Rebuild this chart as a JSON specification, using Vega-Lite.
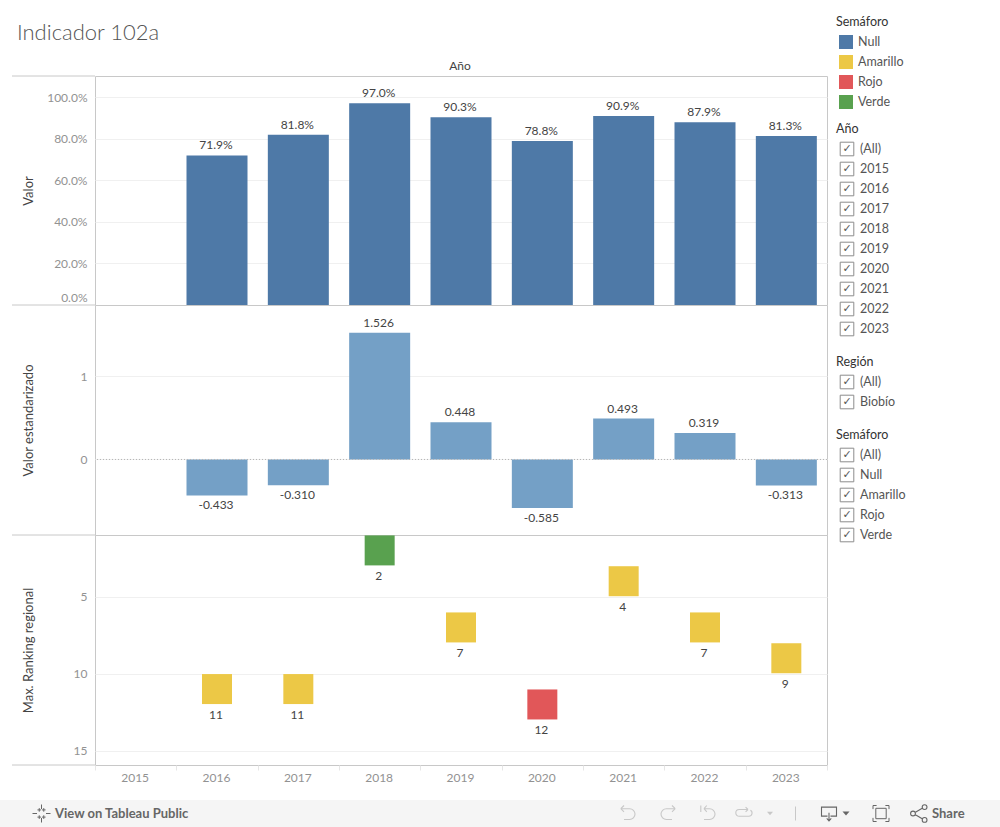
{
"$schema":"https://vega.github.io/schema/vega-lite/v6.json",
"padding":0,"background":"white","spacing":16,
"datasets":{
"indicador":[
{"anio":"2016","valor":0.719,"estandar":-0.433,"ranking":11,"semaforo":"Amarillo"},
{"anio":"2017","valor":0.818,"estandar":-0.310,"ranking":11,"semaforo":"Amarillo"},
{"anio":"2018","valor":0.970,"estandar":1.526,"ranking":2,"semaforo":"Verde"},
{"anio":"2019","valor":0.903,"estandar":0.448,"ranking":7,"semaforo":"Amarillo"},
{"anio":"2020","valor":0.788,"estandar":-0.585,"ranking":12,"semaforo":"Rojo"},
{"anio":"2021","valor":0.909,"estandar":0.493,"ranking":4,"semaforo":"Amarillo"},
{"anio":"2022","valor":0.879,"estandar":0.319,"ranking":7,"semaforo":"Amarillo"},
{"anio":"2023","valor":0.813,"estandar":-0.313,"ranking":9,"semaforo":"Amarillo"}],
"leyenda":[{"tipo":"titulo","etiqueta":"Semáforo"},{"tipo":"opcion","etiqueta":"Null"},{"tipo":"opcion","etiqueta":"Amarillo"},{"tipo":"opcion","etiqueta":"Rojo"},{"tipo":"opcion","etiqueta":"Verde"}],
"filtroAnio":[{"tipo":"titulo","etiqueta":"Año"},{"tipo":"opcion","etiqueta":"(All)"},{"tipo":"opcion","etiqueta":"2015"},{"tipo":"opcion","etiqueta":"2016"},{"tipo":"opcion","etiqueta":"2017"},{"tipo":"opcion","etiqueta":"2018"},{"tipo":"opcion","etiqueta":"2019"},{"tipo":"opcion","etiqueta":"2020"},{"tipo":"opcion","etiqueta":"2021"},{"tipo":"opcion","etiqueta":"2022"},{"tipo":"opcion","etiqueta":"2023"}],
"filtroRegion":[{"tipo":"titulo","etiqueta":"Región"},{"tipo":"opcion","etiqueta":"(All)"},{"tipo":"opcion","etiqueta":"Biobío"}],
"filtroSemaforo":[{"tipo":"titulo","etiqueta":"Semáforo"},{"tipo":"opcion","etiqueta":"(All)"},{"tipo":"opcion","etiqueta":"Null"},{"tipo":"opcion","etiqueta":"Amarillo"},{"tipo":"opcion","etiqueta":"Rojo"},{"tipo":"opcion","etiqueta":"Verde"}],
"uno":[{"fila":1}]
},
"vconcat":[
{"spacing":8,"hconcat":[
 {"spacing":0,"bounds":"flush","vconcat":[
  {"width":732,"height":76,"view":{"stroke":null},"data":{"name":"uno"},"layer":[
    {"mark":{"type":"text","text":"Indicador 102a","align":"left","baseline":"middle","fontSize":22,"fontWeight":300,"color":"#555555"},"encoding":{"x":{"datum":-0.1066,"type":"quantitative","scale":{"domain":[0,1],"nice":false},"axis":null},"y":{"datum":33,"type":"quantitative","scale":{"domain":[0,76],"reverse":true,"nice":false},"axis":null}}},
    {"mark":{"type":"text","text":"Año","align":"center","baseline":"middle","fontSize":12,"color":"#444444"},"encoding":{"x":{"datum":0.4986,"type":"quantitative"},"y":{"datum":65.5,"type":"quantitative"}}}
  ]},
  {"width":732,"height":229,"view":{"stroke":"#c8c8c8"},"resolve":{"scale":{"x":"independent"}},"layer":[
    {"data":{"name":"indicador"},"mark":{"type":"bar","width":{"band":0.75},"color":"#4e79a7"},"encoding":{
      "x":{"field":"anio","type":"nominal","scale":{"domain":["2015","2016","2017","2018","2019","2020","2021","2022","2023"],"paddingInner":0,"paddingOuter":0},"axis":null},
      "y":{"field":"valor","type":"quantitative","title":"Valor","scale":{"domain":[0,1.101],"nice":false},"axis":{"values":[0,0.2,0.4,0.6,0.8,1],"format":".1%","labelFlush":1,"labelFlushOffset":-1,"titleX":-60}}}},
    {"data":{"name":"indicador"},"mark":{"type":"text","baseline":"bottom","dy":-3,"dx":-1},"encoding":{
      "x":{"field":"anio","type":"nominal","scale":{"domain":["2015","2016","2017","2018","2019","2020","2021","2022","2023"],"paddingInner":0,"paddingOuter":0},"axis":null},
      "y":{"field":"valor","type":"quantitative","title":"Valor"},
      "text":{"field":"valor","type":"quantitative","format":".1%"}}},
    {"data":{"name":"uno"},"mark":{"type":"rule","color":"#c8c8c8"},"encoding":{"x":{"datum":-0.1134,"type":"quantitative","scale":{"domain":[0,1],"nice":false},"axis":null},"x2":{"datum":0},"y":{"datum":0,"type":"quantitative","title":"Valor"}}},
    {"data":{"name":"uno"},"mark":{"type":"rule","color":"#c8c8c8"},"encoding":{"x":{"datum":-0.1134,"type":"quantitative","scale":{"domain":[0,1],"nice":false},"axis":null},"x2":{"datum":0},"y":{"datum":1.101,"type":"quantitative","title":"Valor"}}}
  ]},
  {"width":732,"height":230,"view":{"stroke":"#c8c8c8"},"resolve":{"scale":{"x":"independent"}},"layer":[
    {"data":{"name":"indicador"},"mark":{"type":"bar","width":{"band":0.75},"color":"#74a0c6"},"encoding":{
      "x":{"field":"anio","type":"nominal","scale":{"domain":["2015","2016","2017","2018","2019","2020","2021","2022","2023"],"paddingInner":0,"paddingOuter":0},"axis":null},
      "y":{"field":"estandar","type":"quantitative","title":"Valor estandarizado","scale":{"domain":[-0.91,1.861],"nice":false},"axis":{"values":[0,1],"format":"d","titleX":-60}}}},
    {"data":{"name":"uno"},"mark":{"type":"rule","color":"#b4b4b4","strokeDash":[1,2]},"encoding":{"y":{"datum":0,"type":"quantitative","title":"Valor estandarizado"}}},
    {"data":{"name":"indicador"},"transform":[{"filter":"datum.estandar>=0"}],"mark":{"type":"text","baseline":"bottom","dy":-3,"dx":-1},"encoding":{
      "x":{"field":"anio","type":"nominal","scale":{"domain":["2015","2016","2017","2018","2019","2020","2021","2022","2023"],"paddingInner":0,"paddingOuter":0},"axis":null},
      "y":{"field":"estandar","type":"quantitative","title":"Valor estandarizado"},
      "text":{"field":"estandar","type":"quantitative","format":".3f"}}},
    {"data":{"name":"indicador"},"transform":[{"filter":"datum.estandar<0"}],"mark":{"type":"text","baseline":"top","dy":5,"dx":-1},"encoding":{
      "x":{"field":"anio","type":"nominal","scale":{"domain":["2015","2016","2017","2018","2019","2020","2021","2022","2023"],"paddingInner":0,"paddingOuter":0},"axis":null},
      "y":{"field":"estandar","type":"quantitative","title":"Valor estandarizado"},
      "text":{"field":"estandar","type":"quantitative","format":".3f"}}},
    {"data":{"name":"uno"},"mark":{"type":"rule","color":"#c8c8c8"},"encoding":{"x":{"datum":-0.1134,"type":"quantitative","scale":{"domain":[0,1],"nice":false},"axis":null},"x2":{"datum":0},"y":{"datum":-0.91,"type":"quantitative","title":"Valor estandarizado"}}}
  ]},
  {"width":732,"height":230,"view":{"stroke":"#c8c8c8"},"resolve":{"scale":{"x":"independent"}},"layer":[
    {"data":{"name":"indicador"},"mark":{"type":"square","size":900,"opacity":1},"encoding":{
      "x":{"field":"anio","type":"nominal","title":null,"scale":{"type":"band","domain":["2015","2016","2017","2018","2019","2020","2021","2022","2023"],"paddingInner":0,"paddingOuter":0},"axis":{"tickBand":"extent","ticks":true,"tickSize":5,"tickColor":"#e6e6e6","labelAngle":0,"labelPadding":2,"domain":false,"grid":false,"labelOffset":-1}},
      "y":{"field":"ranking","type":"quantitative","title":"Max. Ranking regional","scale":{"domain":[1,15.93],"nice":false,"reverse":true,"zero":false},"axis":{"values":[5,10,15],"format":"d","titleX":-60}},
      "color":{"field":"semaforo","type":"nominal","legend":null,"scale":{"domain":["Null","Amarillo","Rojo","Verde"],"range":["#4e79a7","#ecc846","#e15759","#59a14f"]}}}},
    {"data":{"name":"indicador"},"mark":{"type":"text","baseline":"middle","dy":26,"dx":-1},"encoding":{
      "x":{"field":"anio","type":"nominal","title":null,"scale":{"type":"band","domain":["2015","2016","2017","2018","2019","2020","2021","2022","2023"],"paddingInner":0,"paddingOuter":0},"axis":null},
      "y":{"field":"ranking","type":"quantitative","title":"Max. Ranking regional"},
      "text":{"field":"ranking","type":"quantitative","format":"d"}}},
    {"data":{"name":"uno"},"mark":{"type":"rule","color":"#c8c8c8"},"encoding":{"x":{"datum":-0.1134,"type":"quantitative","scale":{"domain":[0,1],"nice":false},"axis":null},"x2":{"datum":0},"y":{"datum":15.93,"type":"quantitative","title":"Max. Ranking regional"}}}
  ]}
 ]},
 {"spacing":7,"bounds":"flush","vconcat":[
  {"width":160,"height":112,"view":{"stroke":null},"data":{"name":"leyenda"},
   "encoding":{"x":{"field":"tipo","type":"nominal","axis":null,"scale":{"type":"point","domain":["titulo","opcion"],"range":[0,10],"padding":0}},
    "y":{"field":"etiqueta","type":"nominal","axis":null,"scale":{"type":"band","domain":["Semáforo","Null","Amarillo","Rojo","Verde"],"range":[12,112],"padding":0}}},
   "layer":[
    {"transform":[{"filter":"datum.tipo=='titulo'"}],"mark":{"type":"text","align":"left","color":"#333333","fontSize":12.5},"encoding":{"text":{"field":"etiqueta"}}},
    {"transform":[{"filter":"datum.tipo=='opcion'"}],"mark":{"type":"square","size":196,"opacity":1},"encoding":{"color":{"field":"etiqueta","type":"nominal","legend":null,"scale":{"domain":["Null","Amarillo","Rojo","Verde"],"range":["#4e79a7","#ecc846","#e15759","#59a14f"]}}}},
    {"transform":[{"filter":"datum.tipo=='opcion'"}],"mark":{"type":"text","align":"left","dx":12,"color":"#555555","fontSize":12.5},"encoding":{"text":{"field":"etiqueta"}}}
   ]},
  {"spacing":13,"bounds":"flush","vconcat":[
   {"width":160,"height":220,"view":{"stroke":null},"data":{"name":"filtroAnio"},
    "encoding":{"x":{"field":"tipo","type":"nominal","axis":null,"scale":{"type":"point","domain":["titulo","opcion"],"range":[0,11],"padding":0}},
     "y":{"field":"etiqueta","type":"nominal","axis":null,"scale":{"type":"band","domain":["Año","(All)","2015","2016","2017","2018","2019","2020","2021","2022","2023"],"padding":0}}},
    "layer":[
     {"transform":[{"filter":"datum.tipo=='titulo'"}],"mark":{"type":"text","align":"left","color":"#333333","fontSize":12.5},"encoding":{"text":{"field":"etiqueta"}}},
     {"transform":[{"filter":"datum.tipo=='opcion'"}],"mark":{"type":"square","size":185,"filled":false,"stroke":"#8c8c8c","strokeWidth":1,"opacity":1}},
     {"transform":[{"filter":"datum.tipo=='opcion'"}],"mark":{"type":"text","text":"✓","font":"DejaVu Sans","fontSize":11,"align":"center","color":"#555555"}},
     {"transform":[{"filter":"datum.tipo=='opcion'"}],"mark":{"type":"text","align":"left","dx":13,"color":"#555555","fontSize":12.5},"encoding":{"text":{"field":"etiqueta"}}}
    ]},
   {"width":160,"height":60,"view":{"stroke":null},"data":{"name":"filtroRegion"},
    "encoding":{"x":{"field":"tipo","type":"nominal","axis":null,"scale":{"type":"point","domain":["titulo","opcion"],"range":[0,11],"padding":0}},
     "y":{"field":"etiqueta","type":"nominal","axis":null,"scale":{"type":"band","domain":["Región","(All)","Biobío"],"padding":0}}},
    "layer":[
     {"transform":[{"filter":"datum.tipo=='titulo'"}],"mark":{"type":"text","align":"left","color":"#333333","fontSize":12.5},"encoding":{"text":{"field":"etiqueta"}}},
     {"transform":[{"filter":"datum.tipo=='opcion'"}],"mark":{"type":"square","size":185,"filled":false,"stroke":"#8c8c8c","strokeWidth":1,"opacity":1}},
     {"transform":[{"filter":"datum.tipo=='opcion'"}],"mark":{"type":"text","text":"✓","font":"DejaVu Sans","fontSize":11,"align":"center","color":"#555555"}},
     {"transform":[{"filter":"datum.tipo=='opcion'"}],"mark":{"type":"text","align":"left","dx":13,"color":"#555555","fontSize":12.5},"encoding":{"text":{"field":"etiqueta"}}}
    ]},
   {"width":160,"height":120,"view":{"stroke":null},"data":{"name":"filtroSemaforo"},
    "encoding":{"x":{"field":"tipo","type":"nominal","axis":null,"scale":{"type":"point","domain":["titulo","opcion"],"range":[0,11],"padding":0}},
     "y":{"field":"etiqueta","type":"nominal","axis":null,"scale":{"type":"band","domain":["Semáforo","(All)","Null","Amarillo","Rojo","Verde"],"padding":0}}},
    "layer":[
     {"transform":[{"filter":"datum.tipo=='titulo'"}],"mark":{"type":"text","align":"left","color":"#333333","fontSize":12.5},"encoding":{"text":{"field":"etiqueta"}}},
     {"transform":[{"filter":"datum.tipo=='opcion'"}],"mark":{"type":"square","size":185,"filled":false,"stroke":"#8c8c8c","strokeWidth":1,"opacity":1}},
     {"transform":[{"filter":"datum.tipo=='opcion'"}],"mark":{"type":"text","text":"✓","font":"DejaVu Sans","fontSize":11,"align":"center","color":"#555555"}},
     {"transform":[{"filter":"datum.tipo=='opcion'"}],"mark":{"type":"text","align":"left","dx":13,"color":"#555555","fontSize":12.5},"encoding":{"text":{"field":"etiqueta"}}}
    ]}
  ]}
 ]}
]},
{"width":905,"height":27,"view":{"stroke":null},"data":{"name":"uno"},
 "layer":[
  {"mark":{"type":"rect","color":"#f5f5f5"},"encoding":{"x":{"datum":0,"type":"quantitative","scale":{"domain":[95,1000],"nice":false,"zero":false},"axis":null},"x2":{"datum":1000}}},
  {"mark":{"type":"text","text":"View on Tableau Public","align":"left","fontWeight":700,"fontSize":13,"color":"#666666"},"encoding":{"x":{"datum":55,"type":"quantitative"}}},
  {"mark":{"type":"text","text":"Share","align":"left","fontWeight":700,"fontSize":13,"color":"#666666"},"encoding":{"x":{"datum":932,"type":"quantitative"}}},
  {"mark":{"type":"point","shape":"M0,-1V-0.5M0,0.5V1M-1,0H-0.5M0.5,0H1M-0.25,-0.6V-0.2M-0.45,-0.4H-0.05M0.25,-0.6V-0.2M0.05,-0.4H0.45M-0.25,0.2V0.6M-0.45,0.4H-0.05M0.25,0.2V0.6M0.05,0.4H0.45","size":324,"filled":false,"stroke":"#666666","strokeWidth":1,"opacity":1},"encoding":{"x":{"datum":41.5,"type":"quantitative"}}},
  {"mark":{"type":"point","shape":"M-0.9,-0.6H0.2A0.65,0.65 0 0 1 0.2,0.75H-0.5M-0.9,-0.6L-0.5,-1M-0.9,-0.6L-0.5,-0.2","size":256,"filled":false,"stroke":"#c8c8c8","strokeWidth":1.1,"opacity":1},"encoding":{"x":{"datum":628,"type":"quantitative"}}},
  {"mark":{"type":"point","shape":"M0.9,-0.6H-0.2A0.65,0.65 0 0 0 -0.2,0.75H0.5M0.9,-0.6L0.5,-1M0.9,-0.6L0.5,-0.2","size":256,"filled":false,"stroke":"#c8c8c8","strokeWidth":1.1,"opacity":1},"encoding":{"x":{"datum":668,"type":"quantitative"}}},
  {"mark":{"type":"point","shape":"M-0.9,-1V-0.2M-0.5,-0.6H0.2A0.65,0.65 0 0 1 0.2,0.75H-0.5M-0.5,-0.6L-0.15,-1M-0.5,-0.6L-0.15,-0.2","size":256,"filled":false,"stroke":"#c8c8c8","strokeWidth":1.1,"opacity":1},"encoding":{"x":{"datum":708,"type":"quantitative"}}},
  {"mark":{"type":"point","shape":"M0.5,-0.5H-0.6A0.4,0.4 0 0 0 -0.6,0.35H0.6A0.4,0.4 0 0 0 0.8,-0.4M0.5,-0.5L0.2,-0.8M0.5,-0.5L0.2,-0.2","size":256,"filled":false,"stroke":"#c8c8c8","strokeWidth":1.1,"opacity":1},"encoding":{"x":{"datum":744,"type":"quantitative"}}},
  {"mark":{"type":"point","shape":"M-1,-0.6H1L0,0.6Z","size":36,"filled":true,"fill":"#c8c8c8","opacity":1},"encoding":{"x":{"datum":770,"type":"quantitative"}}},
  {"mark":{"type":"point","shape":"M0,-1V1","size":196,"filled":false,"stroke":"#c8c8c8","strokeWidth":1,"opacity":1},"encoding":{"x":{"datum":795.5,"type":"quantitative"}}},
  {"mark":{"type":"point","shape":"M-0.2,0.35H-1V-0.85H1V0.35H0.2M0,-0.1V1M-0.3,0.65L0,1L0.3,0.65","size":225,"filled":false,"stroke":"#666666","strokeWidth":1.1,"opacity":1},"encoding":{"x":{"datum":829,"type":"quantitative"}}},
  {"mark":{"type":"point","shape":"M-1,-0.6H1L0,0.6Z","size":49,"filled":true,"fill":"#666666","opacity":1},"encoding":{"x":{"datum":846,"type":"quantitative"}}},
  {"mark":{"type":"point","shape":"M-1,-0.55V-1H-0.55M0.55,-1H1V-0.55M1,0.55V1H0.55M-0.55,1H-1V0.55M-0.65,-0.65H0.65V0.65H-0.65Z","size":256,"filled":false,"stroke":"#666666","strokeWidth":1,"opacity":1},"encoding":{"x":{"datum":881,"type":"quantitative"}}},
  {"mark":{"type":"point","shape":"M-0.55,-0.1L0.4,-0.65M-0.55,0.1L0.4,0.65M-0.45,0A0.3,0.3 0 1 1 -1.05,0A0.3,0.3 0 1 1 -0.45,0M1,-0.8A0.3,0.3 0 1 1 0.4,-0.8A0.3,0.3 0 1 1 1,-0.8M1,0.8A0.3,0.3 0 1 1 0.4,0.8A0.3,0.3 0 1 1 1,0.8","size":256,"filled":false,"stroke":"#666666","strokeWidth":1.1,"opacity":1},"encoding":{"x":{"datum":919,"type":"quantitative"}}}
 ]}
],
"config":{
 "font":"Lato",
 "locale":{"number":{"decimal":".","thousands":",","grouping":[3],"currency":["$",""],"minus":"-"}},
 "view":{"stroke":null},
 "text":{"fontSize":12,"color":"#444444"},
 "axis":{"grid":true,"gridColor":"#f0f0f0","domain":false,"ticks":false,"labelColor":"#929292","labelFontSize":12,"labelPadding":8,"titleColor":"#444444","titleFontSize":13,"titleFontWeight":400}
}
}
